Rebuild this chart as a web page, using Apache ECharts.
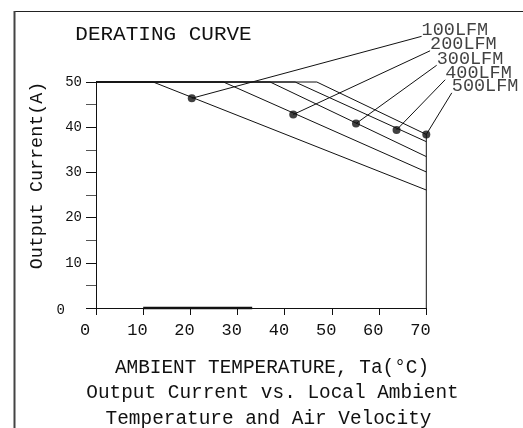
<!DOCTYPE html>
<html><head><meta charset="utf-8">
<script src="https://cdn.jsdelivr.net/npm/echarts@6/dist/echarts.min.js"></script>
<style>html,body{margin:0;padding:0;background:#fff}#c{width:523px;height:428px}</style>
</head><body><div id="c"></div>
<script>
// ---- data ----
const airflowLabels = ['100LFM', '200LFM', '300LFM', '400LFM', '500LFM'];
const maxCurrent = 50;                              // A, flat part of every curve
const kneeTemps = [12.1, 27.0, 36.9, 42.2, 46.8];   // °C where derating starts
const endTemp = 70;                                 // °C
const endCurrents = [26.1, 30.1, 33.5, 36.8, 38.4]; // A at 70 °C
const markerTemps = [20.3, 41.8, 55.1, 63.7, 70.0];
const markerCurrents = [46.4, 42.8, 40.8, 39.4, 38.4];
const labelAnchorTemps = [69.0, 70.8, 72.2, 74.0, 75.4];
const labelAnchorCurrents = [60.1, 56.9, 53.7, 50.5, 47.6];
const boldAxisTemps = [10, 33.1];                   // heavier stroke on the x axis
const xTickValues = [0, 10, 20, 30, 40, 50, 60, 70];
const yTickValues = [0, 10, 20, 30, 40, 50];

const FONT = "'Liberation Mono', 'DejaVu Sans Mono', monospace";
const INK = '#111';

const series = [];
airflowLabels.forEach((name, i) => {
  const pts = [[0, maxCurrent], [kneeTemps[i], maxCurrent], [endTemp, endCurrents[i]]];
  if (i === airflowLabels.length - 1) pts.push([endTemp, 0]);
  series.push({
    type: 'line', name: name, data: pts, symbol: 'none', clip: false, silent: true,
    lineStyle: { color: INK, width: 1 }
  });
});
// leader lines from each marker to its airflow label (drawn through the axes' scales)
series.push({
  type: 'custom', silent: true, clip: false,
  encode: { x: [0, 2], y: [1, 3] },
  data: markerTemps.map((t, i) => [t, markerCurrents[i], labelAnchorTemps[i], labelAnchorCurrents[i]]),
  renderItem: (params, api) => {
    const p1 = api.coord([api.value(0), api.value(1)]);
    const p2 = api.coord([api.value(2), api.value(3)]);
    return {
      type: 'line',
      shape: { x1: p1[0], y1: p1[1], x2: p2[0], y2: p2[1] },
      style: { stroke: INK, lineWidth: 1 }
    };
  }
});
series.push({
  type: 'scatter', silent: true, clip: false, symbol: 'circle', symbolSize: 8,
  itemStyle: { color: INK },
  data: markerTemps.map((t, i) => [t, markerCurrents[i]])
});
series.push({
  type: 'scatter', silent: true, clip: false, symbolSize: 1,
  itemStyle: { color: 'transparent' },
  data: labelAnchorTemps.map((t, i) => ({ value: [t, labelAnchorCurrents[i]], name: airflowLabels[i] })),
  label: {
    show: true, position: 'inside', align: 'left', verticalAlign: 'bottom',
    formatter: p => p.name, fontFamily: FONT, fontSize: 18.5, color: INK, offset: [0, 3]
  }
});
series.push({
  type: 'line', silent: true, clip: false, symbol: 'none',
  data: boldAxisTemps.map(t => [t, 0]),
  lineStyle: { color: INK, width: 2.5 }
});

const chart = echarts.init(document.getElementById('c'), null, { renderer: 'canvas' });
chart.setOption({
  animation: false,
  backgroundColor: '#fff',
  grid: { left: 96, right: 96.7, top: 82, bottom: 120, containLabel: false },
  xAxis: {
    type: 'value', min: xTickValues[0], max: xTickValues[xTickValues.length - 1], interval: 10,
    axisLine: { show: true, lineStyle: { color: INK, width: 1 } },
    axisTick: { show: true, length: 7, lineStyle: { color: INK, width: 1 } },
    splitLine: { show: false },
    axisLabel: {
      fontFamily: FONT, fontSize: 17, color: INK, margin: 14,
      align: 'left', padding: [0, 0, 0, -16]
    }
  },
  yAxis: {
    type: 'value', min: yTickValues[0], max: yTickValues[yTickValues.length - 1], interval: 10,
    axisLine: { show: true, lineStyle: { color: INK, width: 1 } },
    axisTick: { show: true, length: 10, lineStyle: { color: INK } },
    minorTick: { show: true, splitNumber: 2, length: 10, lineStyle: { color: '#555' } },
    splitLine: { show: false },
    axisLabel: {
      fontFamily: FONT, fontSize: 14, color: INK, margin: 14,
      formatter: v => (v === 0 ? '{z|0}' : String(v)),
      rich: { z: { fontFamily: FONT, fontSize: 14, color: INK, padding: [5, 17, 0, 0] } }
    }
  },
  graphic: [
    { type: 'line', shape: { x1: 14, y1: 11.5, x2: 530, y2: 11.5 }, style: { stroke: '#222', lineWidth: 1 }, silent: true },
    { type: 'line', shape: { x1: 14.5, y1: 11, x2: 14.5, y2: 440 }, style: { stroke: '#444', lineWidth: 2 }, silent: true },
    { type: 'text', x: 163.5, y: 34, style: { text: 'DERATING CURVE', font: '21px ' + FONT, fill: INK, textAlign: 'center', textVerticalAlign: 'middle' }, silent: true },
    { type: 'text', x: 37, y: 175.5, rotation: Math.PI / 2, style: { text: 'Output Current(A)', font: '18.4px ' + FONT, fill: INK, textAlign: 'center', textVerticalAlign: 'middle' }, silent: true },
    { type: 'text', x: 272, y: 368, style: { text: 'AMBIENT TEMPERATURE, Ta(°C)', font: '19.4px ' + FONT, fill: INK, textAlign: 'center', textVerticalAlign: 'middle' }, silent: true },
    { type: 'text', x: 272.5, y: 393, style: { text: 'Output Current vs. Local Ambient', font: '19.4px ' + FONT, fill: INK, textAlign: 'center', textVerticalAlign: 'middle' }, silent: true },
    { type: 'text', x: 268.5, y: 418.5, style: { text: 'Temperature and Air Velocity', font: '19.4px ' + FONT, fill: INK, textAlign: 'center', textVerticalAlign: 'middle' }, silent: true }
  ],
  series: series
});
</script>
</body></html>
